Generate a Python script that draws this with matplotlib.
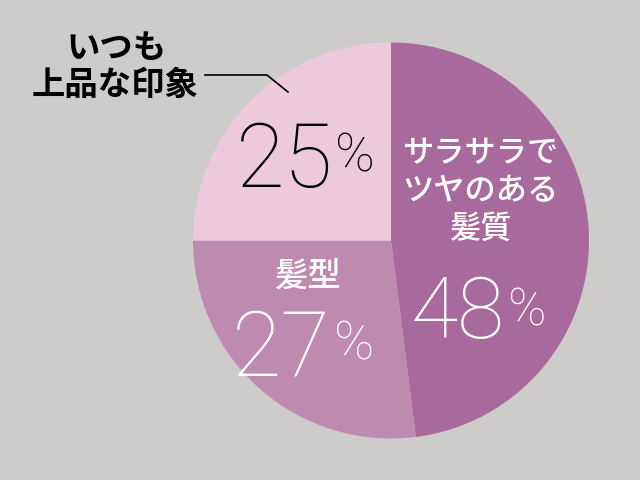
import matplotlib
matplotlib.use("Agg")
import matplotlib.pyplot as plt

# data
categories = ["サラサラで\nツヤのある\n髪質", "髪型", "いつも\n上品な印象"]
values = [48, 27, 25]
colors = ["#a86a9c", "#be8ab0", "#edc9dc"]
bg = "#cdcccb"

JP = ["Noto Sans CJK JP", "DejaVu Sans"]
NUM = ["Roboto", "DejaVu Sans"]

fig = plt.figure(figsize=(6.4, 4.8), dpi=100)
fig.patch.set_facecolor(bg)
ax = fig.add_axes([0, 0, 1, 1])
ax.set_facecolor(bg)

cx, cy, r = 391, 240.5, 198
ax.pie(values, colors=colors, startangle=-90, counterclock=True,
       center=(cx, cy), radius=r, wedgeprops=dict(linewidth=0))
ax.set_xlim(0, 640)
ax.set_ylim(480, 0)
ax.set_aspect("equal")
ax.axis("off")

# category labels
ax.text(480, 191, categories[0], ha="center", va="center", color="white",
        fontsize=22.5, family=JP, fontweight="medium", linespacing=1.22)
ax.text(307, 276, categories[1], ha="center", va="center", color="white",
        fontsize=24, family=JP, fontweight="medium")
left_lines = categories[2].split("\n")
ax.text(117, 48, left_lines[0], ha="center", va="center", color="black",
        fontsize=24, family=JP, fontweight="bold")
ax.text(115, 85, left_lines[1], ha="center", va="center", color="black",
        fontsize=24, family=JP, fontweight="bold")
ax.plot([205, 267, 288], [75, 75, 92], color="black", lw=1.2)

# percentages: (digit right x, baseline y, % left x, % baseline y, color, size)
pct_pos = [
    (505, 338, 507, 325, "white", 62),
    (331, 375, 334, 360, "white", 65),
    (333, 187, 335, 172, "black", 64),
]
for v, (dx, dy, px, py, c, fs) in zip(values, pct_pos):
    ax.text(dx, dy, str(v), ha="right", va="baseline", color=c,
            fontsize=fs, family=NUM, fontweight="light")
    ax.text(px, py, "%", ha="left", va="baseline", color=c,
            fontsize=fs * 0.6, family=NUM, fontweight="light")

fig.savefig("out.png", dpi=100, facecolor=bg)
